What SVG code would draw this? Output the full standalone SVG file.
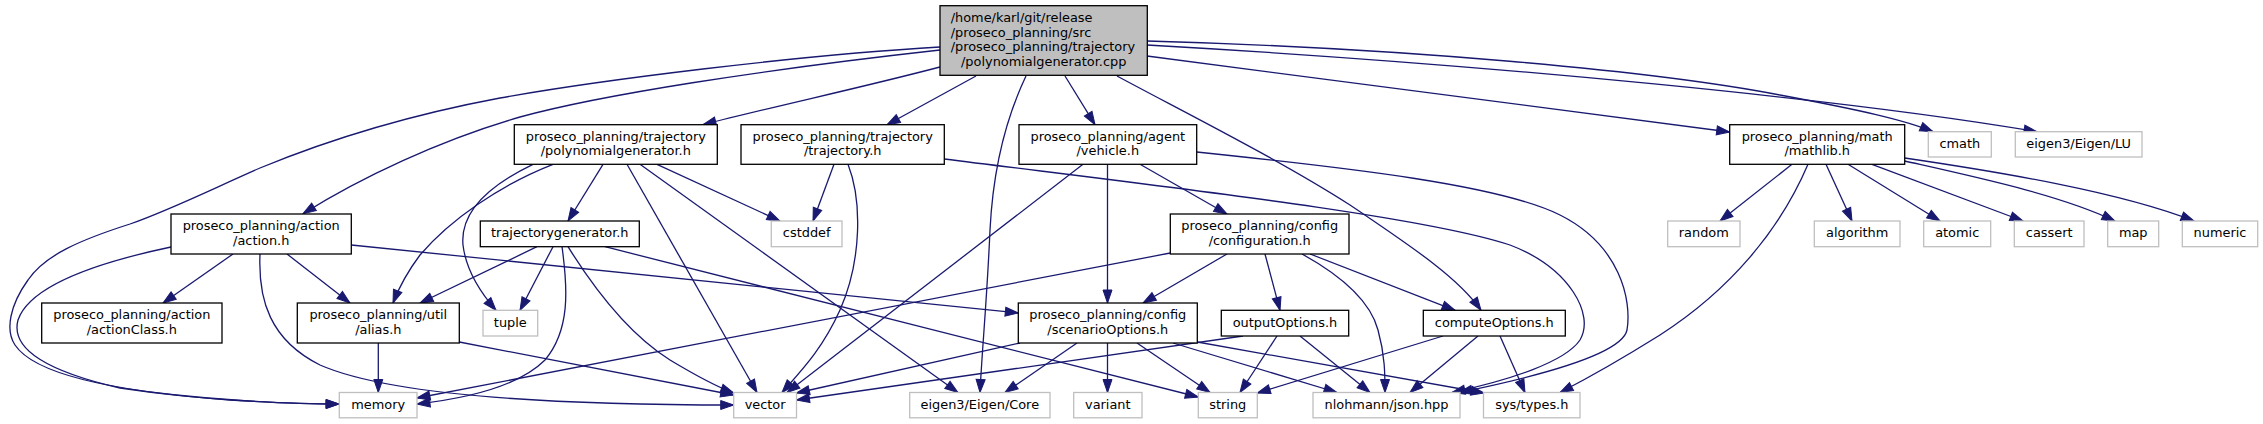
<svg xmlns="http://www.w3.org/2000/svg" width="2263" height="424" viewBox="0 0 2263 424">
<style>
rect{fill:#fff;stroke:#000;stroke-width:1.3}
.g rect{stroke:#bfbfbf}
.m rect{fill:#bfbfbf}
text{font-family:"DejaVu Sans",sans-serif;font-size:12.9px;fill:#000;text-anchor:middle}
text.l{text-anchor:start}
#edges path{fill:none;stroke:#191970;stroke-width:1.3;marker-end:url(#ah)}
</style>
<defs>
<marker id="ah" markerUnits="userSpaceOnUse" viewBox="0 0 13 9" markerWidth="13" markerHeight="9" refX="13" refY="4.5" orient="auto" overflow="visible">
<path d="M0,0 L13,4.5 L0,9 z" fill="#191970" stroke="#191970" stroke-width="1"/>
</marker>
</defs>
<rect x="0" y="0" width="2263" height="424" style="fill:#fff;stroke:none"/>
<g id="edges">
<path d="M940,47 C800,55 600,80 500,98 C420,113 340,135 260,168 C210,190 170,210 130,224 C80,240 45,255 28,280 C10,305 5,330 15,345 C35,375 120,392 230,400 C280,403 315,404 339,404"/>
<path d="M940,50 C760,70 600,95 520,117 C440,140 360,178 303,213.7"/>
<path d="M940,67 C860,88 780,105 703,124.7"/>
<path d="M976,76 L887,124.7"/>
<path d="M1026,76 C1005,120 993,170 990,230 C987,300 982,350 980,392.5"/>
<path d="M1065,76 L1095,124.7"/>
<path d="M1117,76 C1180,110 1280,160 1350,205 C1420,252 1460,280 1481,310.3"/>
<path d="M1147,56 L1729.7,132"/>
<path d="M1147,41 C1400,48 1650,70 1780,95 C1860,110 1905,120 1933,131.7"/>
<path d="M1147,45 C1500,65 1850,100 2037,131.7"/>
<path d="M1792,164.3 L1720,221"/>
<path d="M1808,164.3 C1780,230 1730,290 1660,335 C1620,360 1590,377 1560,392.5"/>
<path d="M1826,164.3 L1852,221"/>
<path d="M1848,164.3 L1940,221"/>
<path d="M1872,164.3 L2023,221"/>
<path d="M1904.7,161 C1980,178 2060,195 2115,221"/>
<path d="M1904.7,158 C2000,172 2120,192 2194,221"/>
<path d="M603,164.3 L568,221"/>
<path d="M533,164.3 C490,185 460,212 463,245 C466,270 480,292 496,310.3"/>
<path d="M553,164.3 C500,185 450,220 420,255 C405,275 398,290 393,303"/>
<path d="M627,164.3 L757,392.5"/>
<path d="M640,164.3 L958,392.5"/>
<path d="M657,164.3 L780,221"/>
<path d="M834,164.3 L813,221"/>
<path d="M848,164.3 C862,200 862,260 840,310 C822,350 800,372 782,392.5"/>
<path d="M944.3,159 C1150,185 1420,215 1510,245 C1570,268 1595,315 1580,340 C1565,362 1510,380 1452,392.5"/>
<path d="M1196.7,152 C1350,168 1500,185 1560,215 C1620,245 1632,300 1627,330 C1622,355 1530,378 1459,392.5"/>
<path d="M1083,164.3 L787,392.5"/>
<path d="M1107.5,164.3 L1107.5,303"/>
<path d="M1140,164.3 L1227,214"/>
<path d="M1170.3,253 L417,398"/>
<path d="M1227,254 L1143,303"/>
<path d="M1265,254 L1280,310.3"/>
<path d="M1302,254 C1340,275 1370,300 1378,330 C1385,355 1385,375 1385,392.5"/>
<path d="M1310,254 L1455,310.3"/>
<path d="M1020,343 L796.5,393"/>
<path d="M1077,343 L1005,392.5"/>
<path d="M1107.5,343 L1107.5,392.5"/>
<path d="M1137,343 L1210,392.5"/>
<path d="M1173,343 L1337,392.5"/>
<path d="M1197.3,342 L1484,393"/>
<path d="M1243,336 L796.5,400"/>
<path d="M1277,336 L1240,392.5"/>
<path d="M1300,336 L1370,392.5"/>
<path d="M1443,336 L1257.3,393"/>
<path d="M1478,336 L1410,392.5"/>
<path d="M1500,336 L1525,392.5"/>
<path d="M171,247 C100,262 30,285 18,320 C10,350 50,372 120,388 C200,400 290,404 339,404"/>
<path d="M233,254 L163,303"/>
<path d="M287,254 L350,303"/>
<path d="M260,254 C258,300 270,340 320,365 C400,400 600,405 733.7,405"/>
<path d="M351.3,245 L1018.3,313"/>
<path d="M378.3,343 L378.3,392.5"/>
<path d="M459.3,342 L733.7,395"/>
<path d="M537,246.7 L420,303"/>
<path d="M553,246.7 L520,310.3"/>
<path d="M562,246.7 C568,290 570,330 545,360 C520,385 470,398 417,404"/>
<path d="M568,246.7 C595,290 630,335 670,360 C700,378 720,388 733.7,393"/>
<path d="M605,246.7 L1198.3,397"/>
</g>
<g id="main" class="m"><rect x="940" y="5.7" width="207.3" height="69.6"/>
<text class="l" x="950.7" y="22">/home/karl/git/release</text>
<text class="l" x="950.7" y="36.7">/proseco_planning/src</text>
<text class="l" x="950.7" y="51.4">/proseco_planning/trajectory</text>
<text x="1043.7" y="66.1">/polynomialgenerator.cpp</text></g>
<g id="polynomialgenerator"><rect x="514.3" y="124.7" width="203" height="39.6"/>
<text x="615.8" y="141">proseco_planning/trajectory</text><text x="615.8" y="155.3">/polynomialgenerator.h</text></g>
<g id="trajectory"><rect x="741" y="124.7" width="203.3" height="39.6"/>
<text x="842.7" y="141">proseco_planning/trajectory</text><text x="842.7" y="155.3">/trajectory.h</text></g>
<g id="vehicle"><rect x="1019" y="124.7" width="177.7" height="39.6"/>
<text x="1107.8" y="141">proseco_planning/agent</text><text x="1107.8" y="155.3">/vehicle.h</text></g>
<g id="mathlib"><rect x="1729.7" y="124.7" width="175" height="39.6"/>
<text x="1817.2" y="141">proseco_planning/math</text><text x="1817.2" y="155.3">/mathlib.h</text></g>
<g id="cmath" class="g"><rect x="1928.3" y="131.7" width="63" height="25.3"/><text x="1959.8" y="148">cmath</text></g>
<g id="eigenlu" class="g"><rect x="2015.3" y="131.7" width="126.7" height="25.3"/><text x="2078.7" y="148">eigen3/Eigen/LU</text></g>
<g id="action"><rect x="171" y="214" width="180.3" height="40"/>
<text x="261.2" y="230.3">proseco_planning/action</text><text x="261.2" y="244.6">/action.h</text></g>
<g id="trajectorygenerator"><rect x="480.3" y="221" width="159" height="25.7"/><text x="559.8" y="237.3">trajectorygenerator.h</text></g>
<g id="cstddef" class="g"><rect x="771.3" y="221" width="70.7" height="25.7"/><text x="806.7" y="237.3">cstddef</text></g>
<g id="configuration"><rect x="1170.3" y="214" width="178.7" height="40"/>
<text x="1259.7" y="230.3">proseco_planning/config</text><text x="1259.7" y="244.6">/configuration.h</text></g>
<g id="random" class="g"><rect x="1667.7" y="221" width="72.3" height="25.7"/><text x="1703.8" y="237.3">random</text></g>
<g id="algorithm" class="g"><rect x="1814.3" y="221" width="85.7" height="25.7"/><text x="1857.2" y="237.3">algorithm</text></g>
<g id="atomic" class="g"><rect x="1923.7" y="221" width="67" height="25.7"/><text x="1957.2" y="237.3">atomic</text></g>
<g id="cassert" class="g"><rect x="2014.3" y="221" width="69.7" height="25.7"/><text x="2049.2" y="237.3">cassert</text></g>
<g id="map" class="g"><rect x="2107.7" y="221" width="51" height="25.7"/><text x="2133.2" y="237.3">map</text></g>
<g id="numeric" class="g"><rect x="2182.3" y="221" width="75.4" height="25.7"/><text x="2220" y="237.3">numeric</text></g>
<g id="actionClass"><rect x="41.7" y="303" width="180.3" height="40"/>
<text x="131.8" y="319.3">proseco_planning/action</text><text x="131.8" y="333.6">/actionClass.h</text></g>
<g id="alias"><rect x="297.3" y="303" width="162" height="40"/>
<text x="378.3" y="319.3">proseco_planning/util</text><text x="378.3" y="333.6">/alias.h</text></g>
<g id="tuple" class="g"><rect x="483" y="310.3" width="54.7" height="25.7"/><text x="510.3" y="326.6">tuple</text></g>
<g id="scenarioOptions"><rect x="1018.3" y="303" width="179" height="40"/>
<text x="1107.8" y="319.3">proseco_planning/config</text><text x="1107.8" y="333.6">/scenarioOptions.h</text></g>
<g id="outputOptions"><rect x="1221.3" y="310.3" width="127.4" height="25.7"/><text x="1285" y="326.6">outputOptions.h</text></g>
<g id="computeOptions"><rect x="1423.3" y="310.3" width="142" height="25.7"/><text x="1494.3" y="326.6">computeOptions.h</text></g>
<g id="memory" class="g"><rect x="339.3" y="392.5" width="77.7" height="25.3"/><text x="378.2" y="408.8">memory</text></g>
<g id="vector" class="g"><rect x="733.7" y="392.5" width="62.8" height="25.3"/><text x="765.1" y="408.8">vector</text></g>
<g id="eigencore" class="g"><rect x="909.7" y="392.5" width="140.3" height="25.3"/><text x="979.8" y="408.8">eigen3/Eigen/Core</text></g>
<g id="variant" class="g"><rect x="1073.7" y="392.5" width="68.3" height="25.3"/><text x="1107.8" y="408.8">variant</text></g>
<g id="string" class="g"><rect x="1198.3" y="392.5" width="59" height="25.3"/><text x="1227.8" y="408.8">string</text></g>
<g id="json" class="g"><rect x="1313" y="392.5" width="147" height="25.3"/><text x="1386.5" y="408.8">nlohmann/json.hpp</text></g>
<g id="systypes" class="g"><rect x="1483.5" y="392.5" width="96.5" height="25.3"/><text x="1531.8" y="408.8">sys/types.h</text></g>
</svg>
